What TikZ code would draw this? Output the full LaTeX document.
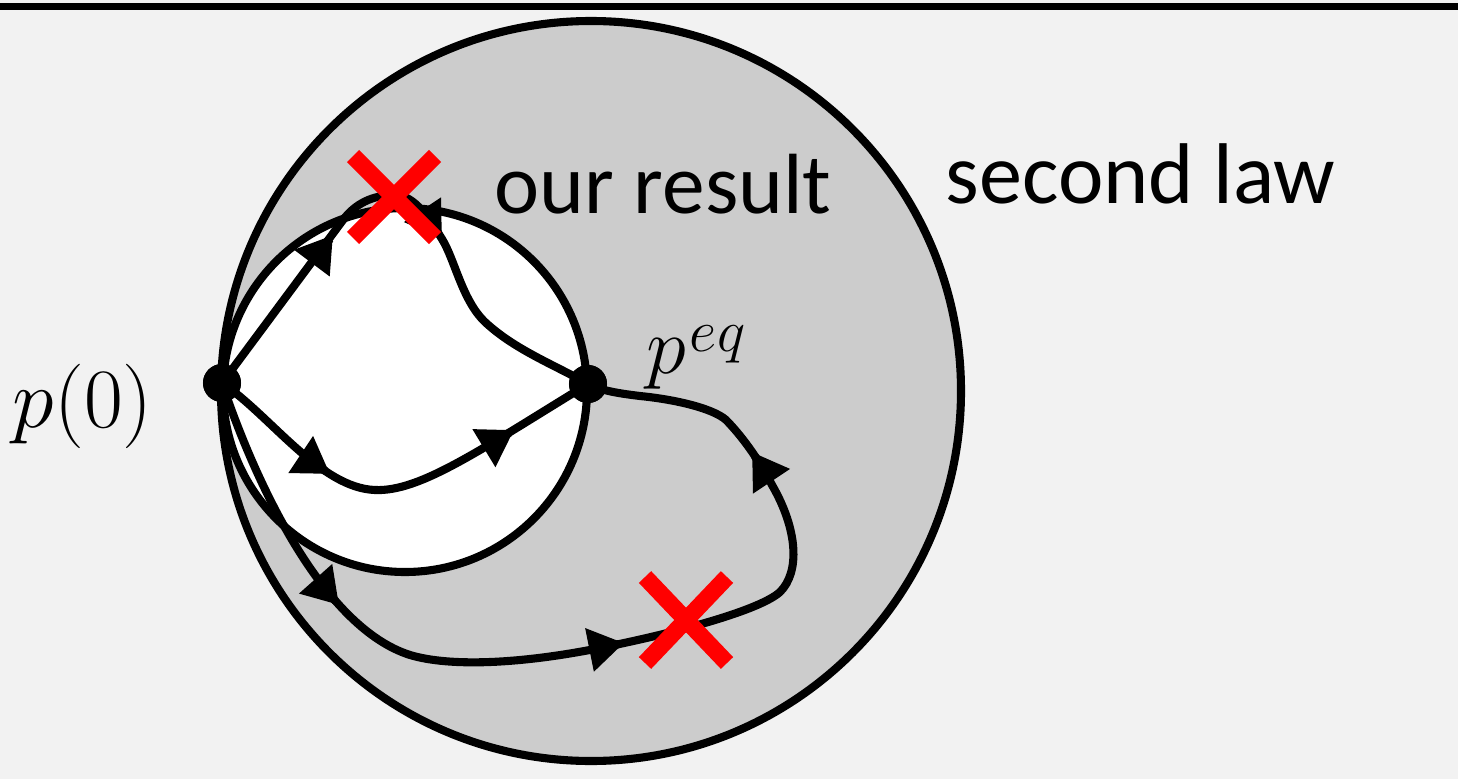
\RequirePackage{fix-cm}
\documentclass[tikz,border=0pt]{standalone}
\usepackage{fontspec}
\newfontfamily\carlito{Carlito}
\usetikzlibrary{arrows.meta}
\definecolor{bg}{HTML}{F2F2F2}
\definecolor{ring}{HTML}{CCCCCC}
\begin{document}
\begin{tikzpicture}[x=0.01cm,y=-0.01cm,
  curve/.style={line width=2.3pt},
  ahead/.style={line width=2.3pt,-{Triangle[length=10pt,width=12pt]}},
  dot/.style={circle,fill=black,minimum size=0.38cm,inner sep=0pt},
  cross/.style={draw=red,line width=0.17cm},
  lbl/.style={inner sep=0pt,anchor=base west}]
\useasboundingbox (0,0) rectangle (1458,779);
\fill[bg] (0,0) rectangle (1458,779);
\draw[line width=2.1pt] (0,6.5) -- (1458,6.5);
% regions
\draw[line width=2.3pt, fill=ring] (591,391) circle (370);
\draw[line width=2.3pt, fill=white] (405,390) circle (182);
% dots
\node[dot] (p0) at (222,383) {};
\node[dot] (peq) at (588,384) {};
% paths
\draw[curve] (p0.center) -- (343,220) .. controls (355,204) and (372,195) .. (395,195)
  .. controls (415,195) and (430,220) .. (442,239)
  .. controls (455,260) and (462,300) .. (485,322)
  .. controls (515,350) and (555,365) .. (peq.center);
\draw[curve] (p0.center) .. controls (270,415) and (320,488) .. (375,490)
  .. controls (420,492) and (480,450) .. (peq.center);
\draw[curve] (p0.center) .. controls (258,490) and (325,628) .. (410,655)
  .. controls (450,667) and (520,664) .. (600,648)
  .. controls (680,632) and (760,610) .. (780,592)
  .. controls (800,572) and (798,530) .. (772,485)
  .. controls (760,462) and (745,440) .. (728,422)
  .. controls (718,410) and (680,400) .. (640,396)
  .. controls (615,393) and (600,390) .. (peq.center);
% arrowheads
\draw[ahead] (330,239) -- (333,235);
\draw[ahead] (439,234.5) -- (442,239);
\draw[ahead] (325.8,471.2) -- (330,474);
\draw[ahead] (509.7,432.6) -- (514,430);
\draw[ahead] (335.7,601.3) -- (339,605);
\draw[ahead] (619,644) -- (624,643);
\draw[ahead] (754.8,456.2) -- (752,452);
\node[dot] at (p0) {};
\node[dot] at (peq) {};
% crosses
\draw[cross] (353,156) -- (435,238) (353,238) -- (435,156);
\draw[cross] (645,577) -- (727,663) (645,663) -- (727,577);
% labels
\node[lbl] (pzero) at (12,427) {\fontsize{24}{28}\selectfont $p(0)$};
\node[lbl] (peqlbl) at (646,373) {\fontsize{23}{28}\selectfont $p$\hspace{1pt}\raisebox{6pt}{\fontsize{17}{20}\selectfont$eq$}};
\node[lbl] (ours) at (494,213) {\carlito\fontsize{24.3}{28}\selectfont our result};
\node[lbl] (second) at (945,203) {\carlito\fontsize{24.5}{28}\selectfont second law};
\end{tikzpicture}
\end{document}
